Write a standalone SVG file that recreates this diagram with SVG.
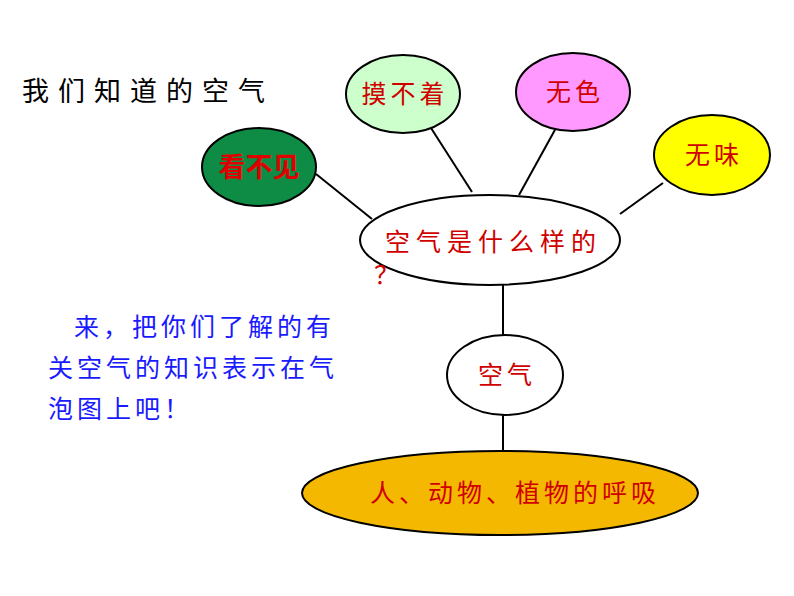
<svg xmlns="http://www.w3.org/2000/svg" width="794" height="596" viewBox="0 0 794 596">
<style>
.n{stroke:#000;stroke-width:2}
.t{font-family:"Liberation Serif","Noto Sans CJK SC",serif;fill:#d00000;font-size:25px;letter-spacing:4px}
.c{stroke:#000;stroke-width:2}
</style>
<rect width="794" height="596" fill="#fff"/>
<text x="22" y="101" font-family="Liberation Serif,'Noto Sans CJK SC',serif" font-size="27" letter-spacing="9">我们知道的空气</text>
<g id="connectors">
<line class="c" x1="316" y1="174" x2="372" y2="219"/>
<line class="c" x1="431" y1="128" x2="472" y2="192"/>
<line class="c" x1="556" y1="128" x2="519" y2="195"/>
<line class="c" x1="663" y1="183" x2="620" y2="214"/>
<line class="c" x1="503" y1="284" x2="503" y2="336"/>
<line class="c" x1="503" y1="414" x2="503" y2="452"/>
</g>
<g id="kanbujian"><ellipse class="n" cx="259" cy="167" rx="57" ry="39" fill="#0e8c45"/><text x="259" y="177" text-anchor="middle" font-family="'Noto Sans CJK SC',sans-serif" font-weight="bold" font-size="27" fill="#e00000">看不见</text></g>
<g id="mobuzhao"><ellipse class="n" cx="403" cy="94" rx="57" ry="39" fill="#ccffcc"/><text class="t" x="405" y="103" text-anchor="middle">摸不着</text></g>
<g id="wuse"><ellipse class="n" cx="573" cy="92" rx="57" ry="39" fill="#ff99ff"/><text class="t" x="575" y="101" text-anchor="middle">无色</text></g>
<g id="wuwei"><ellipse class="n" cx="712" cy="155" rx="58" ry="40" fill="#ffff00"/><text class="t" x="714" y="164" text-anchor="middle">无味</text></g>
<g id="center"><ellipse class="n" cx="490" cy="240" rx="130" ry="45" fill="#fff"/><text class="t" x="385" y="251" style="letter-spacing:6px">空气是什么样的</text><text class="t" x="374" y="284">？</text></g>
<g id="kongqi"><ellipse class="n" cx="505" cy="375" rx="58" ry="40" fill="#fff"/><text class="t" x="507" y="384" text-anchor="middle">空气</text></g>
<g id="huxi"><ellipse class="n" cx="500" cy="493" rx="198" ry="42" fill="#f5b800"/><text class="t" x="370" y="502">人、动物、植物的呼吸</text></g>
<g font-family="'Noto Sans CJK SC',sans-serif" font-size="25" fill="#1a1aff" letter-spacing="4">
<text x="74" y="336">来，把你们了解的有</text>
<text x="48" y="377">关空气的知识表示在气</text>
<text x="48" y="418">泡图上吧！</text>
</g>
</svg>
